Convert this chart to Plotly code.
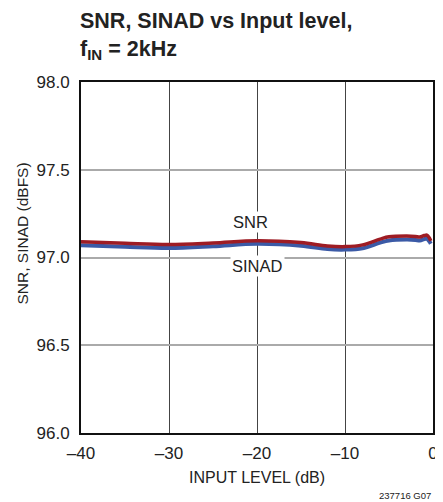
import plotly.graph_objects as go

# Data
input_level = [-40, -35, -30, -25, -20, -15, -12, -10, -8, -6, -5, -3, -2, -1.5, -1, -0.7, -0.4, -0.25]
snr = [97.09, 97.081, 97.074, 97.083, 97.096, 97.085, 97.066, 97.062, 97.072, 97.105, 97.118, 97.122, 97.12, 97.117, 97.125, 97.128, 97.11, 97.095]
sinad = [97.07, 97.061, 97.054, 97.064, 97.078, 97.067, 97.048, 97.045, 97.053, 97.085, 97.097, 97.102, 97.1, 97.097, 97.105, 97.108, 97.09, 97.078]

x_ticks = [-40, -30, -20, -10, 0]
x_ticktext = ["\u201340", "\u201330", "\u201320", "\u201310", "0"]
y_ticks = [96.0, 96.5, 97.0, 97.5, 98.0]
y_ticktext = ["96.0", "96.5", "97.0", "97.5", "98.0"]

FONT = "Liberation Sans, Arial, sans-serif"
W, H = 435, 494  # page body has an 8px margin

fig = go.Figure()
fig.add_trace(go.Scatter(x=input_level, y=sinad, mode="lines", name="SINAD",
                         line=dict(color="#3b5aa6", width=4, shape="spline")))
fig.add_trace(go.Scatter(x=input_level, y=snr, mode="lines", name="SNR",
                         line=dict(color="#9e1c24", width=3.5, shape="spline")))

fig.add_annotation(x=-20.7, y=97.205, text="SNR", showarrow=False,
                   font=dict(family=FONT, size=16.5, color="#222"), bgcolor="white", borderpad=1)
fig.add_annotation(x=-20, y=96.953, text="SINAD", showarrow=False,
                   font=dict(family=FONT, size=16.5, color="#222"), bgcolor="white", borderpad=1)

fig.add_annotation(xref="paper", yref="paper", x=0.5, y=-0.128, yanchor="middle",
                   text="INPUT LEVEL (dB)", showarrow=False,
                   font=dict(family=FONT, size=16, color="#222"))
fig.add_annotation(xref="paper", yref="paper", x=-0.196, y=0.567, textangle=-90,
                   text="SNR, SINAD (dBFS)", showarrow=False,
                   font=dict(family=FONT, size=15.5, color="#222"))
fig.add_annotation(xref="paper", yref="paper", x=1.0, xanchor="right", y=-0.177, yanchor="middle",
                   text="237716 G07", showarrow=False,
                   font=dict(family=FONT, size=9.5, color="#222"))

fig.update_layout(
    width=W, height=H,
    margin=dict(l=73, r=10, t=74, b=69),
    paper_bgcolor="white", plot_bgcolor="white",
    showlegend=False,
    title=dict(text="<b>SNR, SINAD vs Input level,<br>f<sub>IN</sub> = 2kHz</b>",
               x=72 / W, xanchor="left", xref="container",
               y=1 - 20 / H, yanchor="top", yref="container",
               font=dict(family=FONT, size=21.5, color="#222")),
)
fig.update_xaxes(range=[-40, 0], tickvals=x_ticks, ticktext=x_ticktext,
                 showgrid=True, gridcolor="#444", gridwidth=1,
                 showline=True, linecolor="#111", linewidth=2, mirror=True,
                 ticks="", ticklabelstandoff=4, zeroline=False, automargin=False,
                 tickfont=dict(family=FONT, size=17, color="#222"))
fig.update_yaxes(range=[96, 98], tickvals=y_ticks, ticktext=y_ticktext,
                 showgrid=True, gridcolor="#aaa", gridwidth=1.5,
                 showline=True, linecolor="#111", linewidth=2, mirror=True,
                 ticks="", ticklabelstandoff=6, zeroline=False, automargin=False,
                 tickfont=dict(family=FONT, size=17, color="#222"))

fig.write_html("out.html")
